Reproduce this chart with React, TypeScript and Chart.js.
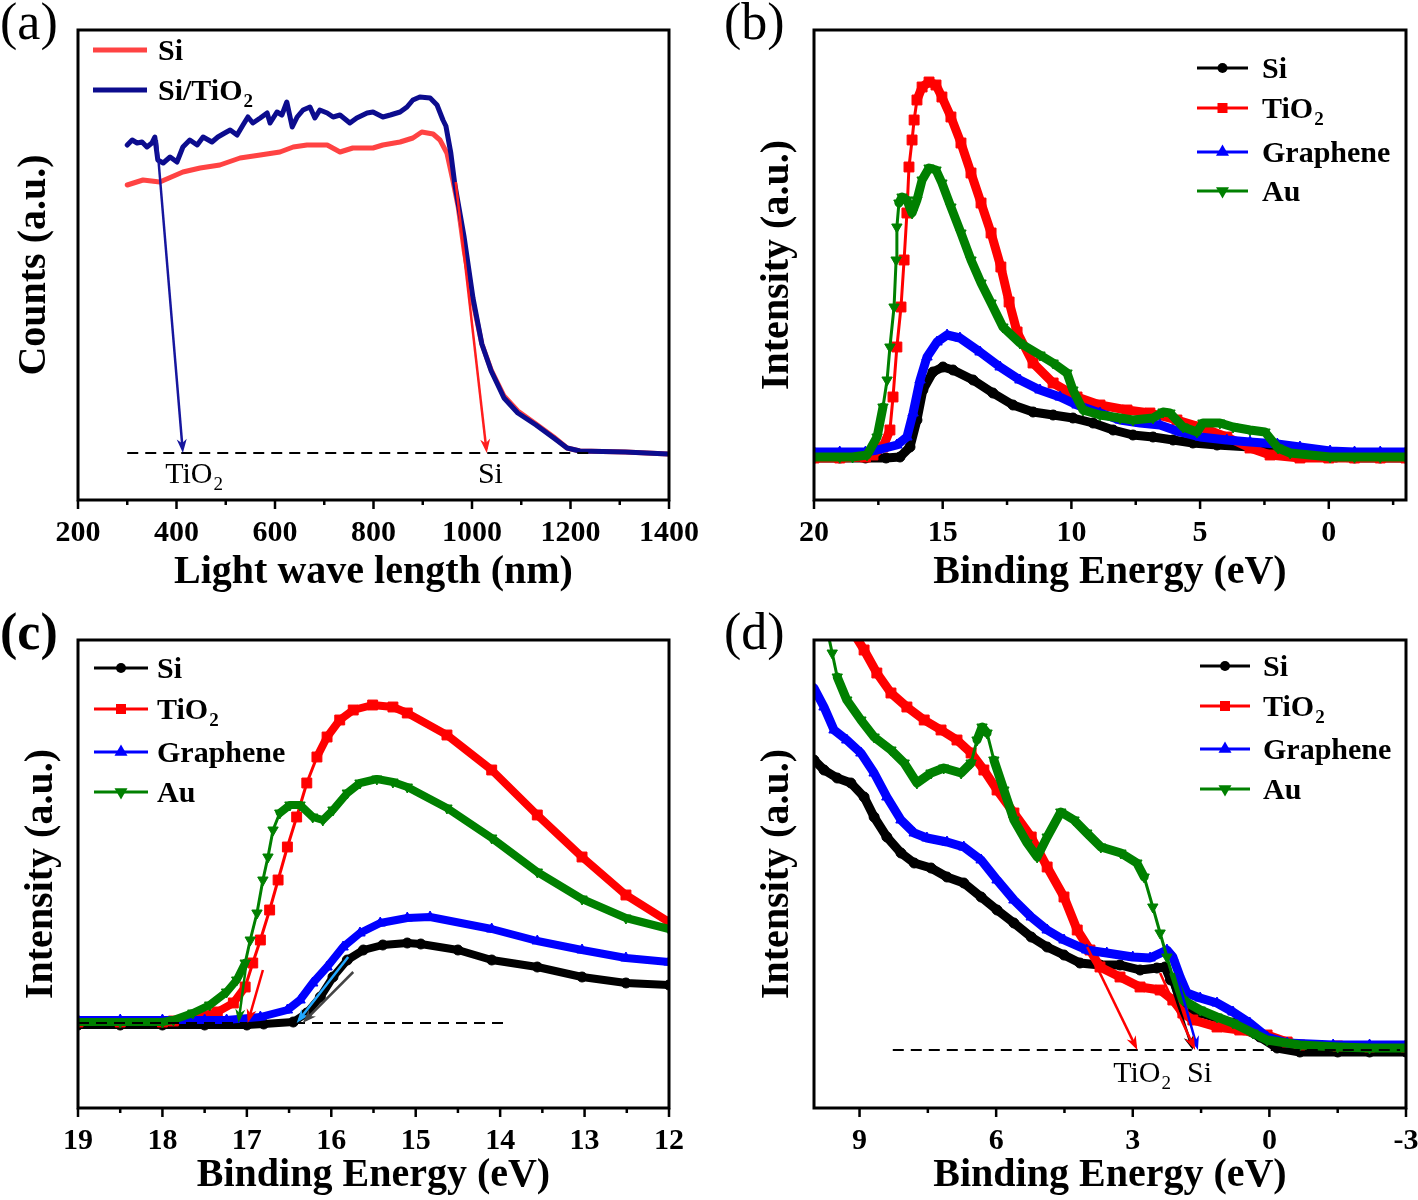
import React, { useEffect, useRef } from "react";
import { Chart, registerables } from "chart.js";

Chart.register(...registerables);

const FAM = "'Liberation Serif', 'Times New Roman', Times, serif";
Chart.defaults.font.family = FAM;

// ---------------- Panel (a): light wave length vs counts ----------------
const A_SI_NM = [300, 332, 366, 413, 448, 488, 529, 570, 610, 637, 665, 706, 732, 758, 799, 819, 854, 880, 898, 921, 935, 949, 961, 972, 984, 1002, 1020, 1039, 1065, 1093, 1130, 1166, 1193, 1219, 1311, 1398];
const A_SI_CNT = [315, 320, 318, 328, 332, 335, 342, 345, 348, 353, 355, 355, 348, 352, 352, 355, 358, 362, 368, 366, 360, 347, 320, 293, 250, 198, 156, 130, 104, 89, 76, 63, 52, 49, 48, 46];
const A_TI_NM = [300, 310, 320, 330, 340, 350, 356, 362, 373, 387, 401, 413, 427, 442, 454, 472, 484, 498, 509, 523, 535, 545, 555, 570, 584, 590, 604, 614, 624, 635, 645, 657, 671, 681, 691, 706, 718, 732, 752, 766, 787, 799, 819, 834, 854, 868, 880, 894, 915, 929, 941, 947, 957, 965, 984, 1002, 1020, 1039, 1065, 1093, 1130, 1166, 1193, 1219, 1311, 1398];
const A_TI_CNT = [355, 360, 357, 358, 353, 357, 363, 340, 337, 343, 338, 353, 360, 355, 363, 358, 363, 367, 370, 365, 375, 383, 377, 382, 387, 377, 388, 385, 398, 373, 383, 390, 393, 382, 390, 387, 383, 385, 377, 382, 387, 388, 383, 385, 388, 393, 400, 403, 402, 395, 380, 374, 347, 316, 263, 202, 156, 129, 102, 87, 75, 62, 52, 49, 48, 46];
const A_TICKS = [200, 400, 600, 800, 1000, 1200, 1400];
const A_MINOR = [300, 500, 700, 900, 1100, 1300];
const A_BASE = [300, 1250, 47];
const A_ARROW_X0 = [360, 967];
const A_ARROW_Y0 = [360, 318];
const A_ARROW_X1 = [413, 1030];
const A_ARROW_Y1 = [47, 47];
const A_NOTE_X = [377, 1012];
const A_NOTE_Y = [27, 27];
const A_NOTES = ["TiO_2", "Si"];

// ---------------- Panel (b): UPS full range ----------------
const B_SI_E = [20, 19, 18, 17.2, 16.66, 16.27, 16.0, 15.77, 15.38, 14.99, 14.6, 13.82, 13.05, 12.27, 11.49, 10.71, 9.94, 9.16, 8.38, 7.61, 6.83, 6.05, 5.28, 4.34, 3.06, 1.86, 0.8, -0.28, -1, -2, -3];
const B_SI_I = [42, 42, 42, 42, 43, 53, 80, 110, 128, 133, 130, 120, 107, 95, 88, 85, 82, 77, 70, 65, 63, 60, 57, 55, 53, 52, 48, 43, 42, 42, 42];
const B_TI_E = [20, 19, 18, 17.71, 17.32, 17.05, 16.93, 16.78, 16.62, 16.5, 16.39, 16.31, 16.19, 16.11, 16.0, 15.8, 15.53, 15.26, 15.03, 14.68, 14.29, 13.9, 13.51, 13.12, 12.74, 12.42, 12.11, 11.49, 10.71, 9.78, 8.89, 7.84, 6.95, 5.9, 5.0, 3.96, 3.06, 2.28, 1.12, 0, -1, -2, -3];
const B_TI_I = [42, 42, 43, 45, 53, 70, 103, 153, 193, 240, 287, 333, 360, 380, 400, 413, 418, 415, 403, 383, 357, 327, 297, 267, 233, 198, 168, 137, 117, 103, 95, 90, 87, 80, 73, 63, 52, 45, 42, 42, 42, 42, 42];
const B_GR_E = [20, 19, 18, 17.55, 16.78, 16.39, 16.15, 15.88, 15.61, 15.22, 14.83, 14.33, 13.55, 12.77, 12.0, 11.22, 10.44, 9.78, 8.89, 8.11, 7.33, 6.56, 5.78, 5.0, 3.96, 3.06, 2.0, 1.12, -0.05, -1, -2, -3];
const B_GR_I = [48, 48, 48, 50, 55, 63, 87, 120, 143, 158, 165, 162, 148, 133, 120, 110, 103, 95, 87, 80, 77, 75, 68, 63, 60, 58, 56, 53, 49, 48, 48, 48];
const B_AU_E = [20, 19, 18.5, 17.94, 17.55, 17.32, 17.16, 17.05, 16.89, 16.81, 16.78, 16.7, 16.58, 16.39, 16.19, 16.0, 15.8, 15.53, 15.26, 15.03, 14.68, 14.29, 13.9, 13.51, 13.12, 12.66, 12.0, 11.22, 10.71, 10.17, 9.94, 9.55, 8.89, 8.11, 7.61, 6.83, 6.44, 6.17, 5.66, 5.12, 4.89, 4.23, 3.72, 3.06, 2.48, 1.97, 1.5, -0.05, -1, -2, -3];
const B_AU_I = [43, 43, 43, 45, 63, 93, 120, 153, 193, 240, 273, 297, 303, 300, 287, 300, 320, 332, 330, 317, 293, 267, 240, 217, 197, 173, 157, 145, 137, 127, 110, 90, 85, 82, 80, 82, 88, 87, 73, 68, 77, 77, 73, 70, 68, 52, 47, 43, 43, 43, 43];
const B_TICKS = [20, 15, 10, 5, 0];
const B_MINOR = [17.5, 12.5, 7.5, 2.5, -2.5];

// ---------------- Panel (c): secondary electron cut-off ----------------
const C_SI_E = [19, 18.5, 18, 17.5, 17, 16.8, 16.45, 16.29, 16.13, 15.98, 15.81, 15.62, 15.39, 15.1, 14.94, 14.5, 14.1, 13.56, 13.03, 12.51, 12.0];
const C_SI_I = [83, 83, 83, 83, 83, 84, 86, 95, 111, 131, 148, 158, 163, 165, 164, 158, 148, 141, 131, 125, 123];
const C_TI_E = [19, 18.5, 18, 17.87, 17.64, 17.35, 17.16, 17.02, 16.93, 16.84, 16.73, 16.63, 16.52, 16.41, 16.29, 16.17, 16.05, 15.9, 15.74, 15.51, 15.27, 15.1, 14.63, 14.1, 13.56, 13.03, 12.51, 12.0];
const C_TI_I = [86, 86, 86, 87, 90, 96, 105, 121, 145, 168, 198, 228, 261, 291, 325, 351, 371, 388, 398, 403, 401, 395, 373, 338, 293, 251, 213, 186];
const C_GR_E = [19, 18.5, 18, 17.5, 17.24, 16.84, 16.52, 16.37, 16.22, 16.05, 15.86, 15.66, 15.42, 15.1, 14.83, 14.1, 13.56, 13.03, 12.51, 12.0];
const C_GR_I = [88, 88, 88, 88, 88, 91, 98, 108, 125, 141, 161, 175, 185, 190, 191, 179, 167, 158, 150, 146];
const C_AU_E = [19, 18.5, 18, 17.87, 17.64, 17.44, 17.24, 17.12, 17.02, 16.96, 16.88, 16.81, 16.75, 16.69, 16.61, 16.49, 16.37, 16.22, 16.1, 15.98, 15.81, 15.66, 15.46, 15.27, 15.1, 14.63, 14.1, 13.56, 13.03, 12.51, 12.0];
const C_AU_I = [86, 86, 86, 88, 95, 103, 116, 128, 145, 168, 195, 228, 251, 278, 295, 303, 303, 291, 288, 298, 315, 325, 329, 326, 321, 300, 270, 236, 209, 190, 179];
const C_TICKS = [19, 18, 17, 16, 15, 14, 13, 12];
const C_MINOR = [18.5, 17.5, 16.5, 15.5, 14.5, 13.5, 12.5];
const C_BASE = [19, 13.94, 85];
const C_ARROW_X0 = [17.0, 16.81, 15.8, 15.74];
const C_ARROW_Y0 = [148, 138, 151, 136];
const C_ARROW_X1 = [17.1, 16.99, 16.41, 16.34];
const C_ARROW_Y1 = [85, 85, 85, 85];
const C_ARROW_COL = ["#008000", "#ff0000", "#22a8ff", "#444444"];

// ---------------- Panel (d): valence band edge ----------------
const D_SI_E = [10.0, 9.78, 9.49, 9.19, 8.9, 8.68, 8.4, 8.09, 7.8, 7.43, 7.08, 6.71, 6.33, 5.98, 5.61, 5.23, 4.88, 4.51, 4.16, 3.72, 3.28, 2.84, 2.47, 2.29, 2.17, 2.03, 1.81, 1.52, 0.8, 0.21, -0.17, -0.67, -1.5, -2.2, -3.0];
const D_SI_I = [348, 338, 330, 325, 311, 291, 271, 255, 245, 240, 231, 225, 211, 198, 185, 171, 161, 153, 145, 143, 143, 138, 140, 141, 128, 108, 95, 95, 85, 71, 60, 56, 56, 56, 56];
const D_TI_E = [9.25, 9.17, 8.9, 8.62, 8.31, 7.96, 7.58, 7.21, 6.86, 6.55, 6.27, 5.98, 5.61, 5.23, 4.88, 4.51, 4.22, 3.94, 3.72, 3.28, 2.84, 2.4, 2.12, 1.9, 1.68, 1.15, 0.65, 0.05, -0.39, -0.67, -1.5, -2.2, -3.0];
const D_TI_I = [488, 478, 458, 435, 415, 401, 388, 378, 368, 355, 338, 318, 295, 271, 241, 211, 178, 158, 141, 131, 121, 118, 108, 95, 88, 81, 78, 73, 66, 63, 62, 61, 61];
const D_GR_E = [10.0, 9.78, 9.56, 9.28, 8.97, 8.68, 8.4, 8.09, 7.8, 7.52, 7.08, 6.71, 6.33, 5.98, 5.61, 5.23, 4.88, 4.51, 4.01, 3.57, 3.0, 2.62, 2.25, 2.12, 1.96, 1.81, 1.52, 1.15, 0.8, 0.43, 0.05, -0.39, -1.4, -2.2, -3.0];
const D_GR_I = [420, 401, 378, 368, 355, 335, 311, 288, 275, 270, 266, 261, 248, 228, 208, 191, 178, 168, 158, 155, 151, 150, 158, 151, 131, 115, 110, 105, 96, 85, 71, 65, 63, 63, 63];
const D_AU_E = [9.82, 9.71, 9.6, 9.49, 9.28, 8.97, 8.68, 8.31, 8.02, 7.74, 7.43, 7.15, 6.77, 6.55, 6.42, 6.31, 6.2, 6.05, 5.83, 5.61, 5.32, 5.1, 4.88, 4.58, 4.29, 4.01, 3.7, 3.26, 2.91, 2.75, 2.56, 2.4, 2.25, 2.12, 1.9, 1.52, 1.15, 0.8, 0.36, 0.05, -0.67, -1.5, -2.2, -3.0];
const D_AU_I = [488, 478, 455, 431, 408, 388, 371, 358, 345, 325, 335, 340, 335, 345, 368, 381, 375, 348, 318, 288, 265, 251, 271, 296, 288, 275, 261, 255, 245, 231, 201, 175, 151, 131, 108, 98, 91, 85, 75, 68, 63, 61, 60, 60];
const D_TICKS = [9, 6, 3, 0, -3];
const D_MINOR = [7.5, 4.5, 1.5, -1.5];
const D_BASE = [8.27, -2.87, 58];
const D_ARROW_X0 = [4.0, 2.29, 2.14, 2.4];
const D_ARROW_Y0 = [161, 143, 150, 135];
const D_ARROW_X1 = [2.9, 1.68, 1.57, 1.63];
const D_ARROW_Y1 = [58, 58, 58, 58];
const D_ARROW_COL = ["#ff0000", "#000000", "#0000ff", "#ff0000"];
const D_NOTE_X = [3.43, 1.81];
const D_NOTE_Y = [36, 36];
const D_NOTES = ["TiO_2", "Si"];

// ---------------- helpers ----------------
type Ser = { label: string; x: number[]; y: number[]; color: string; style: string; rot: number; r: number };

const ser = (label: string, x: number[], y: number[], color: string, style: string, rot: number, r: number): Ser => ({ label, x, y, color, style, rot, r });

function richText(ctx: any, text: string, x: number, cy: number, size: number, weight: string) {
  const parts = text.split("_");
  const base = cy + size * 0.33;
  ctx.textBaseline = "alphabetic";
  ctx.textAlign = "left";
  ctx.fillStyle = "#000";
  ctx.font = `${weight} ${size}px ${FAM}`;
  ctx.fillText(parts[0], x, base);
  if (parts[1]) {
    const w = ctx.measureText(parts[0]).width;
    ctx.font = `${weight} ${Math.round(size * 0.64)}px ${FAM}`;
    ctx.fillText(parts[1], x + w + 1, base + size * 0.24);
  }
}

function marker(ctx: any, style: string, rot: number, x: number, y: number, color: string) {
  ctx.fillStyle = color;
  ctx.beginPath();
  if (style === "circle") ctx.arc(x, y, 5, 0, Math.PI * 2);
  else if (style === "rect") ctx.rect(x - 5, y - 5, 10, 10);
  else {
    const r = 7.5;
    const s = rot ? -1 : 1;
    ctx.moveTo(x, y - s * r);
    ctx.lineTo(x + r * 0.866, y + s * r * 0.5);
    ctx.lineTo(x - r * 0.866, y + s * r * 0.5);
    ctx.closePath();
  }
  ctx.fill();
}

function arrow(ctx: any, x0: number, y0: number, x1: number, y1: number, color: string) {
  const ang = Math.atan2(y1 - y0, x1 - x0);
  const head = 14, hw = 5;
  const bx = x1 - head * Math.cos(ang), by = y1 - head * Math.sin(ang);
  ctx.strokeStyle = color;
  ctx.lineWidth = 2.5;
  ctx.beginPath();
  ctx.moveTo(x0, y0);
  ctx.lineTo(x1 - 4 * Math.cos(ang), y1 - 4 * Math.sin(ang));
  ctx.stroke();
  ctx.fillStyle = color;
  ctx.beginPath();
  ctx.moveTo(x1, y1);
  ctx.lineTo(bx + hw * Math.sin(ang), by - hw * Math.cos(ang));
  ctx.lineTo(x1 - head * 0.7 * Math.cos(ang), y1 - head * 0.7 * Math.sin(ang));
  ctx.lineTo(bx - hw * Math.sin(ang), by + hw * Math.cos(ang));
  ctx.closePath();
  ctx.fill();
}

type Panel = any;

const PANELS: Panel[] = [
  {
    key: "a", left: 0, top: 0, w: 709, h: 605,
    plot: { l: 78, t: 30, r: 669, b: 500 },
    xMin: 200, xMax: 1400, reverse: false, yMax: 470,
    major: A_TICKS, minor: A_MINOR,
    xTitle: "Light wave length (nm)", yTitle: "Counts (a.u.)", xTitlePad: 8, yTitlePad: 11,
    plain: true, lineW: 5, thinW: 5, steep: 99,
    series: [
      ser("Si", A_SI_NM, A_SI_CNT, "#ff4343", "line", 0, 0),
      ser("Si/TiO_2", A_TI_NM, A_TI_CNT, "#0c0c8e", "line", 0, 0),
    ],
    legend: { x0: 93, x1: 147, tx: 158, y0: 50, dy: [0, 40], lineW: 5, marker: false },
    base: A_BASE,
    arrows: { x0: A_ARROW_X0, y0: A_ARROW_Y0, x1: A_ARROW_X1, y1: A_ARROW_Y1, col: ["#16169e", "#ff1e1e"] },
    notes: { x: A_NOTE_X, y: A_NOTE_Y, t: A_NOTES },
    tag: { text: "(a)", x: 0, y: 26, bold: false },
  },
  {
    key: "b", left: 709, top: 0, w: 709, h: 605,
    plot: { l: 105, t: 30, r: 697, b: 500 },
    xMin: -3, xMax: 20, reverse: true, yMax: 470,
    major: B_TICKS, minor: B_MINOR,
    xTitle: "Binding Energy (eV)", yTitle: "Intensity (a.u.)", xTitlePad: 8, yTitlePad: 45,
    plain: false, lineW: 9, thinW: 3, steep: 6,
    series: [
      ser("Si", B_SI_E, B_SI_I, "#000000", "circle", 0, 5),
      ser("TiO_2", B_TI_E, B_TI_I, "#ff0000", "rect", 0, 7),
      ser("Graphene", B_GR_E, B_GR_I, "#0000ff", "triangle", 0, 6),
      ser("Au", B_AU_E, B_AU_I, "#008000", "triangle", 180, 6),
    ],
    legend: { x0: 488, x1: 539, tx: 553, y0: 68, dy: [0, 40, 84, 123], lineW: 3, marker: true },
    base: null, arrows: null, notes: null,
    tag: { text: "(b)", x: 15, y: 26, bold: false },
  },
  {
    key: "c", left: 0, top: 605, w: 709, h: 595,
    plot: { l: 78, t: 35, r: 669, b: 503 },
    xMin: 12, xMax: 19, reverse: true, yMax: 468,
    major: C_TICKS, minor: C_MINOR,
    xTitle: "Binding Energy (eV)", yTitle: "Intensity (a.u.)", xTitlePad: 0, yTitlePad: 18,
    plain: false, lineW: 8, thinW: 3, steep: 2.2,
    series: [
      ser("Si", C_SI_E, C_SI_I, "#000000", "circle", 0, 5),
      ser("TiO_2", C_TI_E, C_TI_I, "#ff0000", "rect", 0, 7),
      ser("Graphene", C_GR_E, C_GR_I, "#0000ff", "triangle", 0, 6),
      ser("Au", C_AU_E, C_AU_I, "#008000", "triangle", 180, 6),
    ],
    legend: { x0: 94, x1: 148, tx: 157, y0: 63, dy: [0, 41, 84, 124], lineW: 3, marker: true },
    base: C_BASE,
    arrows: { x0: C_ARROW_X0, y0: C_ARROW_Y0, x1: C_ARROW_X1, y1: C_ARROW_Y1, col: C_ARROW_COL },
    notes: null,
    tag: { text: "(c)", x: 0, y: 31, bold: true },
  },
  {
    key: "d", left: 709, top: 605, w: 709, h: 595,
    plot: { l: 105, t: 35, r: 697, b: 503 },
    xMin: -3, xMax: 10, reverse: true, yMax: 468,
    major: D_TICKS, minor: D_MINOR,
    xTitle: "Binding Energy (eV)", yTitle: "Intensity (a.u.)", xTitlePad: 0, yTitlePad: 45,
    plain: false, lineW: 9, thinW: 3, steep: 3,
    series: [
      ser("Si", D_SI_E, D_SI_I, "#000000", "circle", 0, 5),
      ser("TiO_2", D_TI_E, D_TI_I, "#ff0000", "rect", 0, 7),
      ser("Graphene", D_GR_E, D_GR_I, "#0000ff", "triangle", 0, 6),
      ser("Au", D_AU_E, D_AU_I, "#008000", "triangle", 180, 6),
    ],
    legend: { x0: 491, x1: 541, tx: 554, y0: 61, dy: [0, 40, 83, 123], lineW: 3, marker: true },
    base: D_BASE,
    arrows: { x0: D_ARROW_X0, y0: D_ARROW_Y0, x1: D_ARROW_X1, y1: D_ARROW_Y1, col: D_ARROW_COL },
    notes: { x: D_NOTE_X, y: D_NOTE_Y, t: D_NOTES },
    tag: { text: "(d)", x: 15, y: 31, bold: false },
  },
];

function decor(p: Panel) {
  return {
    id: "decor_" + p.key,
    afterDraw(chart: any) {
      const { ctx, chartArea: ca, scales } = chart;
      const xs = scales.x, ys = scales.y;
      ctx.save();
      if (p.base) {
        ctx.strokeStyle = "#000";
        ctx.lineWidth = 2;
        ctx.setLineDash([11, 7]);
        ctx.beginPath();
        ctx.moveTo(xs.getPixelForValue(p.base[0]), ys.getPixelForValue(p.base[2]));
        ctx.lineTo(xs.getPixelForValue(p.base[1]), ys.getPixelForValue(p.base[2]));
        ctx.stroke();
        ctx.setLineDash([]);
      }
      if (p.arrows) {
        const a = p.arrows;
        for (let i = 0; i < a.x0.length; i++) {
          arrow(ctx, xs.getPixelForValue(a.x0[i]), ys.getPixelForValue(a.y0[i]), xs.getPixelForValue(a.x1[i]), ys.getPixelForValue(a.y1[i]), a.col[i]);
        }
      }
      if (p.notes) {
        const n = p.notes;
        for (let i = 0; i < n.t.length; i++) {
          richText(ctx, n.t[i], xs.getPixelForValue(n.x[i]), ys.getPixelForValue(n.y[i]), 30, "normal");
        }
      }
      ctx.strokeStyle = "#000";
      ctx.lineWidth = 3;
      ctx.strokeRect(ca.left, ca.top, ca.right - ca.left, ca.bottom - ca.top);
      ctx.lineWidth = 2.5;
      ctx.beginPath();
      p.major.forEach((v: number) => {
        const x = xs.getPixelForValue(v);
        ctx.moveTo(x, ca.bottom);
        ctx.lineTo(x, ca.bottom + 9);
      });
      p.minor.forEach((v: number) => {
        const x = xs.getPixelForValue(v);
        ctx.moveTo(x, ca.bottom);
        ctx.lineTo(x, ca.bottom + 5);
      });
      ctx.stroke();
      const L = p.legend;
      p.series.forEach((s: Ser, i: number) => {
        const y = L.y0 + L.dy[i];
        ctx.strokeStyle = s.color;
        ctx.lineWidth = L.lineW;
        ctx.beginPath();
        ctx.moveTo(L.x0, y);
        ctx.lineTo(L.x1, y);
        ctx.stroke();
        if (L.marker) marker(ctx, s.style, s.rot, (L.x0 + L.x1) / 2, y, s.color);
        richText(ctx, s.label, L.tx, y, 30, "bold");
      });
      ctx.fillStyle = "#000";
      ctx.textAlign = "left";
      ctx.textBaseline = "alphabetic";
      ctx.font = `${p.tag.bold ? "bold" : "normal"} 52px ${FAM}`;
      ctx.fillText(p.tag.text, p.tag.x, p.tag.y + 13);
      ctx.restore();
    },
  };
}

function buildConfig(p: Panel): any {
  const n = p.series.length;
  const datasets = p.series.map((s: Ser, i: number) => ({
    label: s.label,
    data: s.x.map((xv, k) => ({ x: xv, y: s.y[k] })),
    borderColor: s.color,
    backgroundColor: s.color,
    borderWidth: p.lineW,
    borderJoinStyle: "round",
    borderCapStyle: "round",
    segment: p.plain
      ? undefined
      : {
          borderWidth: (c: any) => {
            const dx = Math.abs(c.p1.x - c.p0.x);
            const dy = Math.abs(c.p1.y - c.p0.y);
            return dy > p.steep * dx ? p.thinW : p.lineW;
          },
        },
    pointStyle: p.plain ? false : s.style,
    pointRadius: p.plain ? 0 : s.r,
    pointRotation: s.rot,
    pointBackgroundColor: s.color,
    pointBorderColor: s.color,
    pointBorderWidth: 1,
    tension: 0,
    fill: false,
    clip: 0,
    order: n - i,
  }));
  const tickFont = { size: 30, weight: "bold" as const, family: FAM };
  const titleFont = { size: 40, weight: "bold" as const, family: FAM };
  return {
    type: "line",
    data: { datasets },
    options: {
      animation: false,
      responsive: false,
      events: [],
      layout: { padding: { left: 0, top: p.plot.t, right: p.w - p.plot.r, bottom: 0 } },
      plugins: { legend: { display: false }, tooltip: { enabled: false } },
      scales: {
        x: {
          type: "linear",
          min: p.xMin,
          max: p.xMax,
          reverse: p.reverse,
          afterBuildTicks: (s: any) => {
            s.ticks = p.major.map((v: number) => ({ value: v }));
          },
          afterFit: (s: any) => {
            s.height = p.h - p.plot.b;
            s.paddingLeft = 0;
            s.paddingRight = 0;
          },
          grid: { display: false, drawTicks: false, tickLength: 0 },
          border: { display: false },
          ticks: {
            autoSkip: false,
            maxRotation: 0,
            minRotation: 0,
            padding: 15,
            color: "#000",
            font: tickFont,
            callback: (v: any) => String(v),
          },
          title: { display: true, text: p.xTitle, color: "#000", font: titleFont, padding: { top: 0, bottom: p.xTitlePad } },
        },
        y: {
          type: "linear",
          min: 0,
          max: p.yMax,
          afterFit: (s: any) => {
            s.width = p.plot.l;
            s.paddingTop = 0;
            s.paddingBottom = 0;
          },
          grid: { display: false, drawTicks: false },
          border: { display: false },
          ticks: { display: false },
          title: { display: true, text: p.yTitle, color: "#000", font: titleFont, padding: { top: p.yTitlePad, bottom: 0 } },
        },
      },
    },
    plugins: [decor(p)],
  };
}

function PanelChart({ p }: { p: Panel }) {
  const ref = useRef<HTMLCanvasElement>(null);
  useEffect(() => {
    const chart = new Chart(ref.current as HTMLCanvasElement, buildConfig(p));
    return () => chart.destroy();
  }, []);
  return (
    <canvas
      ref={ref}
      width={p.w}
      height={p.h}
      style={{ position: "absolute", left: p.left, top: p.top, width: p.w, height: p.h }}
    />
  );
}

export default function App() {
  return (
    <div style={{ position: "absolute", left: 0, top: 0, width: 1418, height: 1200, background: "#fff", overflow: "hidden" }}>
      {PANELS.map((p) => (
        <PanelChart key={p.key} p={p} />
      ))}
    </div>
  );
}
